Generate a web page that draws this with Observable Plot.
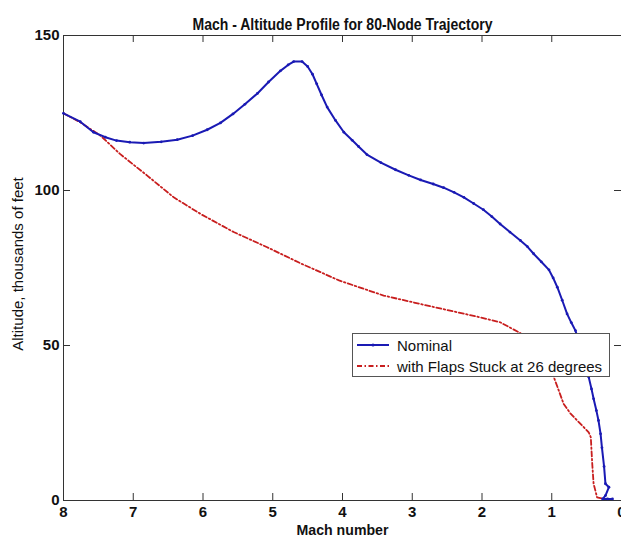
<!DOCTYPE html>
<html>
<head>
<meta charset="utf-8">
<script src="https://cdn.jsdelivr.net/npm/d3@7"></script>
<script src="https://cdn.jsdelivr.net/npm/@observablehq/plot@0.6"></script>
<style>
  html, body { margin: 0; padding: 0; background: #fff; }
  #wrap { position: relative; width: 621px; height: 537px; overflow: hidden; }
  #legend { position: absolute; left: 352px; top: 333px; width: 256px; height: 42px;
    border: 1px solid #555; background: #fff; font-family: "Liberation Sans", Arial, sans-serif; font-size: 15px; color: #111; }
  #legend .row { position: absolute; left: 0; height: 20px; display: flex; align-items: center; white-space: nowrap; }
  #legend svg { margin-left: 4px; margin-right: 8px; }
</style>
</head>
<body>
<div id="wrap">
  <div id="chart"></div>
  <div id="legend"></div>
</div>
<script>
const titleText = "Mach - Altitude Profile for 80-Node Trajectory";
const xLabel = "Mach number";
const yLabel = "Altitude, thousands of feet";
const seriesNames = ["Nominal", "with Flaps Stuck at 26 degrees"];
const seriesColors = ["#1a1ab4", "#c81e1e"];

const xTicks = [8, 7, 6, 5, 4, 3, 2, 1, 0];
const yTicks = [0, 50, 100, 150];

const nominalMach = [8.00, 7.76, 7.57, 7.40, 7.24, 7.05, 6.85, 6.60, 6.37, 6.15, 5.94, 5.75, 5.57, 5.40, 5.22, 5.06, 4.89, 4.78, 4.70, 4.58, 4.50, 4.43, 4.37, 4.30, 4.22, 4.10, 3.98, 3.86, 3.77, 3.65, 3.45, 3.24, 3.05, 2.88, 2.70, 2.55, 2.40, 2.26, 2.12, 1.98, 1.86, 1.74, 1.60, 1.45, 1.35, 1.26, 1.15, 1.04, 0.98, 0.92, 0.85, 0.78, 0.72, 0.66, 0.61, 0.57, 0.52, 0.47, 0.43, 0.40, 0.36, 0.33, 0.30, 0.28, 0.25, 0.23, 0.18, 0.23, 0.27, 0.20, 0.13];
const nominalAlt  = [124.9, 122.2, 118.8, 117.2, 116.1, 115.6, 115.3, 115.7, 116.4, 117.7, 119.6, 121.8, 124.7, 127.8, 131.3, 135.0, 138.6, 140.5, 141.6, 141.6, 140.0, 137.5, 134.4, 130.8, 126.9, 122.6, 118.8, 116.2, 114.2, 111.6, 109.0, 106.7, 104.9, 103.4, 102.1, 100.9, 99.4, 97.8, 95.8, 93.8, 91.6, 89.2, 86.6, 83.9, 81.9, 79.6, 77.0, 74.4, 71.8, 68.8, 64.6, 60.2, 57.4, 54.8, 50.8, 47.0, 43.2, 39.8, 36.0, 32.8, 29.0, 25.8, 21.5, 17.0, 11.0, 5.4, 4.3, 1.6, 0.5, 0.5, 0.5];

const flapsMach = [8.00, 7.76, 7.47, 7.19, 6.80, 6.42, 6.04, 5.56, 5.08, 4.61, 4.05, 3.41, 2.69, 2.07, 1.74, 1.45, 1.20, 0.97, 0.83, 0.73, 0.47, 0.44, 0.42, 0.40, 0.35, 0.25, 0.16];
const flapsAlt  = [124.9, 122.0, 117.7, 111.8, 104.8, 97.8, 92.5, 86.6, 81.7, 76.6, 71.0, 66.1, 62.4, 59.3, 57.5, 54.0, 48.0, 39.8, 31.2, 28.0, 22.0, 20.4, 12.0, 5.4, 1.0, 0.5, 0.5];

const nominal = nominalMach.map((m, i) => ({mach: m, alt: nominalAlt[i]}));
const flaps = flapsMach.map((m, i) => ({mach: m, alt: flapsAlt[i]}));

const W = 621, H = 537, mL = 63, mR = 0, mT = 35, mB = 37;
const innerW = W - mL - mR, innerH = H - mT - mB;
const tick = 7;
const axisColor = "#333";
const sans = "'Liberation Sans', Arial, sans-serif";

const chart = Plot.plot({
  width: W, height: H,
  marginLeft: mL, marginRight: mR, marginTop: mT, marginBottom: mB,
  x: {domain: [8, 0]},
  y: {domain: [0, 150]},
  style: {fontFamily: sans, background: "#fff", color: "#111"},
  marks: [
    Plot.frame({stroke: axisColor, strokeWidth: 1}),
    Plot.tickX(xTicks, {x: d => d, insetTop: innerH - tick, stroke: axisColor}),
    Plot.tickX(xTicks, {x: d => d, insetBottom: innerH - tick, stroke: axisColor}),
    Plot.tickY(yTicks, {y: d => d, insetRight: innerW - tick, stroke: axisColor}),
    Plot.tickY(yTicks, {y: d => d, insetLeft: innerW - tick, stroke: axisColor}),
    Plot.axisX(xTicks, {tickSize: 0, tickPadding: 6, fontSize: 15, fontWeight: "bold", label: null, fill: "#111"}),
    Plot.axisY(yTicks, {tickSize: 0, tickPadding: 4, fontSize: 15, fontWeight: "bold", label: null, fill: "#111"}),
    Plot.line(flaps, {x: "mach", y: "alt", stroke: seriesColors[1], strokeWidth: 1.8, strokeDasharray: "5,2.5,1.5,2.5"}),
    Plot.line(nominal, {x: "mach", y: "alt", stroke: seriesColors[0], strokeWidth: 2}),
    Plot.dot(nominal, {x: "mach", y: "alt", r: 1.4, fill: seriesColors[0], stroke: "none"}),
    Plot.text([titleText], {frameAnchor: "top", dy: -17, fontSize: 16, fontWeight: "bold", fill: "#111", className: "ttl"}),
    Plot.text([xLabel], {frameAnchor: "bottom", dy: 34, fontSize: 15, fontWeight: "bold", fill: "#111", className: "xlab"}),
    Plot.text([yLabel], {frameAnchor: "left", textAnchor: "middle", dx: -45, dy: -4, rotate: -90, fontSize: 15, fill: "#111"})
  ]
});
document.getElementById("chart").appendChild(chart);

// condense the bold title / x label like the reference's narrow font
const fit = (cls, len) => {
  chart.querySelectorAll("g." + cls + " text").forEach(t => {
    t.setAttribute("textLength", len);
    t.setAttribute("lengthAdjust", "spacingAndGlyphs");
  });
};
fit("ttl", 300);
fit("xlab", 92);

const legend = document.getElementById("legend");
const dash = ["", "5,2.5,1.5,2.5"];
seriesNames.forEach((name, i) => {
  const row = document.createElement("div");
  row.className = "row";
  row.style.top = (1 + i * 21) + "px";
  row.innerHTML = `<svg width="32" height="10"><line x1="0" y1="5" x2="32" y2="5" stroke="${seriesColors[i]}" stroke-width="2" ${dash[i] ? `stroke-dasharray="${dash[i]}"` : ""}/>${i === 0 ? `<circle cx="16" cy="5" r="1.5" fill="${seriesColors[i]}"/>` : ""}</svg><span>${name}</span>`;
  legend.appendChild(row);
});
</script>
</body>
</html>
